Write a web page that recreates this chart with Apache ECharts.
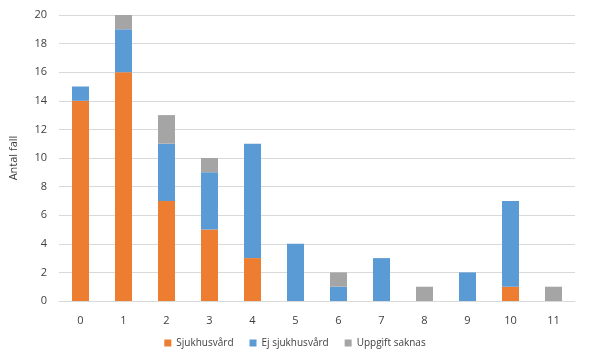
<!DOCTYPE html>
<html><head><meta charset="utf-8">
<script src="https://cdn.jsdelivr.net/npm/echarts@6/dist/echarts.min.js"></script>
<style>html,body{margin:0;padding:0;background:#fff}#c{width:590px;height:364px}</style>
</head><body><div id="c"></div>
<script>
const categories = ['0','1','2','3','4','5','6','7','8','9','10','11'];
const sjukhusvard = [14,16,7,5,3,0,0,0,0,0,1,0];
const ejSjukhusvard = [1,3,4,4,8,4,1,3,0,2,6,0];
const uppgiftSaknas = [0,1,2,1,0,0,1,0,1,0,0,1];
const yTicks = {min:0, max:20, interval:2};

const font = 'Open Sans';
const chart = echarts.init(document.getElementById('c'));
function ser(name, data, color){
  return {name, type:'bar', stack:'a', data, barWidth:17,
    itemStyle:{color}, emphasis:{disabled:true}};
}
chart.setOption({
  animation:false,
  textStyle:{fontFamily:font},
  grid:{left:56, right:15, top:15, bottom:63},
  legend:{bottom:11, left:'center', itemWidth:7, itemHeight:7, itemGap:16, icon:'rect',
    textStyle:{fontFamily:font, fontSize:10, color:'#404040'},
    data:['Sjukhusvård','Ej sjukhusvård','Uppgift saknas']},
  xAxis:{type:'category', data:categories,
    axisLine:{lineStyle:{color:'#d9d9d9'}}, axisTick:{show:false},
    axisLabel:{color:'#404040', fontSize:11, fontFamily:font, margin:14}},
  yAxis:{type:'value', min:yTicks.min, max:yTicks.max, interval:yTicks.interval,
    name:'Antal fall', nameLocation:'middle', nameGap:40,
    nameTextStyle:{color:'#404040', fontSize:11, fontFamily:font},
    axisLine:{show:false}, axisTick:{show:false},
    splitLine:{lineStyle:{color:'#d9d9d9'}},
    axisLabel:{color:'#404040', fontSize:11, fontFamily:font, margin:12}},
  series:[
    ser('Sjukhusvård', sjukhusvard, '#ED7D31'),
    ser('Ej sjukhusvård', ejSjukhusvard, '#5B9BD5'),
    ser('Uppgift saknas', uppgiftSaknas, '#A5A5A5')
  ]
});
</script></body></html>
